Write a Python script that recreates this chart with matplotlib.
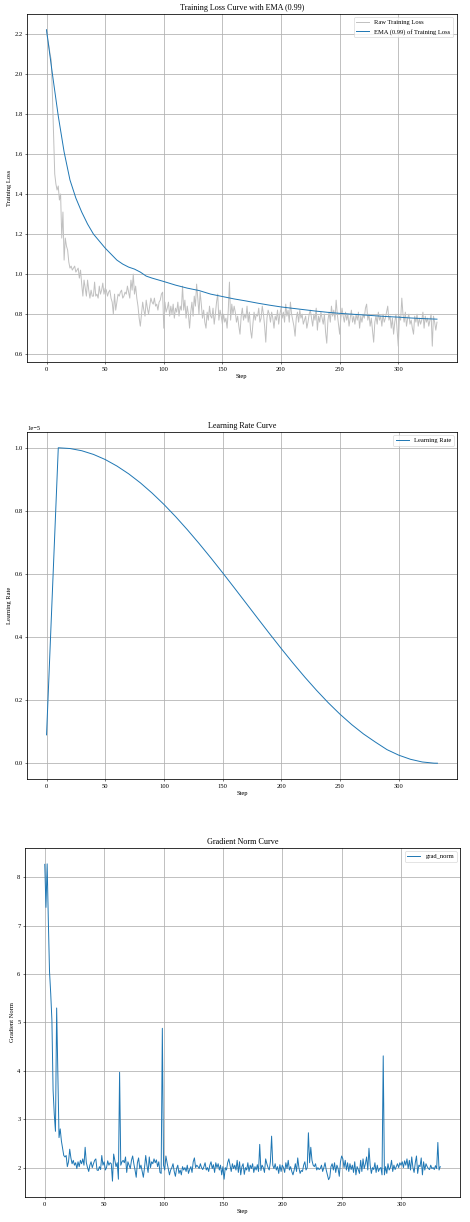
import matplotlib
matplotlib.use("Agg")
import matplotlib.pyplot as plt
import numpy as np

plt.rcParams['font.family'] = ['Liberation Serif', 'DejaVu Serif']
plt.rcParams['grid.linewidth'] = 1.2
plt.rcParams['axes.linewidth'] = 1.2

# ---------------- data ----------------
loss_raw = [
    2.22, 2.17, 2.14, 2.10, 2.07, 1.90, 1.70, 1.50, 1.45, 1.42,
    1.44, 1.37, 1.40, 1.18, 1.31, 1.07, 1.18, 1.14, 1.12, 1.06,
    1.03, 1.04, 1.02, 1.03, 1.04, 1.01, 1.02, 1.03, 0.98, 1.02,
    0.95, 0.89, 0.97, 0.93, 0.89, 0.97, 0.92, 0.88, 0.92, 0.89,
    0.89, 0.96, 0.89, 0.90, 0.88, 0.94, 0.90, 0.92, 0.955, 0.90,
    0.93, 0.92, 0.89, 0.91, 0.92, 0.88, 0.86, 0.80, 0.90, 0.82,
    0.86, 0.90, 0.89, 0.91, 0.92, 0.88, 0.89, 0.91, 0.90, 0.94,
    0.91, 0.88, 0.97, 0.92, 1.00, 0.90, 0.94, 0.88, 0.84, 0.78,
    0.74, 0.80, 0.86, 0.82, 0.79, 0.87, 0.83, 0.80, 0.84, 0.88,
    0.86, 0.85, 0.88, 0.84, 0.85, 0.82, 0.86, 0.87, 0.90, 0.91,
    0.73, 0.86, 0.81, 0.83, 0.86,
    0.79, 0.84, 0.80, 0.85, 0.78, 0.83, 0.81, 0.86, 0.79, 0.84,
    0.82, 0.94, 0.82, 0.87, 0.78, 0.84, 0.80, 0.73, 0.81, 0.86,
    0.79, 0.89, 0.84, 0.95, 0.88, 0.80, 0.91, 0.85, 0.78, 0.82,
    0.76, 0.73, 0.81, 0.77, 0.84, 0.79, 0.78, 0.83, 0.75, 0.80,
    0.86, 0.90, 0.77, 0.82, 0.79, 0.75, 0.80, 0.76, 0.78, 0.73,
    0.82, 0.96, 0.77, 0.85, 0.80, 0.84, 0.81, 0.76, 0.79, 0.74,
    0.70, 0.79, 0.83, 0.77, 0.80, 0.78, 0.84, 0.76, 0.81, 0.72,
    0.68, 0.75, 0.81, 0.77, 0.80, 0.79, 0.83, 0.76, 0.78, 0.84,
    0.80, 0.74, 0.66, 0.78, 0.82, 0.80, 0.76, 0.81, 0.78, 0.73,
    0.79, 0.77, 0.82, 0.75, 0.80, 0.83, 0.78, 0.81, 0.76, 0.85,
    0.79, 0.82, 0.76, 0.86, 0.80, 0.77, 0.74, 0.69, 0.78, 0.81,
    0.76, 0.82, 0.78, 0.80, 0.75, 0.77, 0.79, 0.73, 0.76, 0.80,
    0.82, 0.78, 0.74, 0.80, 0.77, 0.83, 0.72, 0.79, 0.76, 0.81,
    0.78, 0.75, 0.80, 0.71, 0.655, 0.77, 0.81, 0.76, 0.84, 0.79,
    0.82, 0.77, 0.87, 0.80, 0.75, 0.70, 0.78, 0.83, 0.79, 0.76,
    0.81, 0.77, 0.80, 0.74, 0.78, 0.82, 0.76, 0.79, 0.75, 0.80,
    0.77, 0.81, 0.73, 0.79, 0.76, 0.80, 0.78, 0.83, 0.85, 0.77,
    0.80, 0.74, 0.78, 0.72, 0.66, 0.76, 0.79, 0.75, 0.81, 0.77,
    0.79, 0.74, 0.80, 0.76, 0.78, 0.81, 0.84, 0.77, 0.79, 0.73,
    0.78, 0.70, 0.76, 0.80, 0.72, 0.64, 0.79, 0.77, 0.88, 0.80,
    0.76, 0.81, 0.74, 0.78, 0.80, 0.75, 0.77, 0.73, 0.70, 0.79,
    0.76, 0.80, 0.74, 0.78, 0.75, 0.77, 0.81, 0.73, 0.79, 0.76,
    0.78, 0.74, 0.77, 0.80, 0.64, 0.79, 0.76, 0.72, 0.76,
]

ema_steps = [0, 5, 10, 15, 20, 25, 30, 35, 40, 45, 50, 55, 60, 65, 70, 75,
             80, 85, 90, 100, 110, 120, 130, 140, 150, 160, 170, 180, 190,
             200, 210, 220, 230, 240, 250, 260, 270, 280, 290, 300, 310,
             320, 333]
ema_loss = [2.22, 2.00, 1.79, 1.61, 1.47, 1.38, 1.31, 1.25, 1.20, 1.165,
            1.13, 1.10, 1.07, 1.05, 1.035, 1.025, 1.01, 0.99, 0.98, 0.963,
            0.945, 0.93, 0.918, 0.90, 0.888, 0.876, 0.866, 0.855, 0.845,
            0.836, 0.829, 0.822, 0.815, 0.809, 0.804, 0.800, 0.796, 0.792,
            0.788, 0.785, 0.781, 0.778, 0.775]

lr_steps = [0, 10, 20, 30, 40, 50, 60, 70, 80, 90, 100, 110, 120, 130, 140,
            150, 160, 170, 180, 190, 200, 210, 220, 230, 240, 250, 260, 270,
            280, 290, 300, 310, 320, 330, 333]
lr_vals = [0.09, 1.0, 0.9976, 0.9906, 0.9789, 0.9627, 0.9420, 0.9173,
           0.8886, 0.8561, 0.8204, 0.7815, 0.7400, 0.6963, 0.6508, 0.6038,
           0.5558, 0.5073, 0.4587, 0.4105, 0.3632, 0.3172, 0.2730, 0.2311,
           0.1917, 0.1553, 0.1223, 0.0928, 0.0673, 0.0431, 0.0256, 0.0125,
           0.0040, 0.0002, 0.0]

grad_norm = [
    8.27, 7.38, 8.28, 7.10, 6.05, 5.60, 5.05, 3.60, 3.10, 2.75,
    5.30, 3.90, 2.62, 2.80, 2.55, 2.40, 2.25, 2.22, 2.25, 2.02,
    2.12, 2.38, 2.20, 2.08, 2.15, 2.05, 2.10, 1.98, 2.12, 2.02,
    2.15, 2.08, 2.18, 2.05, 2.42, 2.10, 2.00, 1.92, 2.05, 2.12,
    2.00, 2.08, 2.15, 2.18, 1.95, 1.94, 2.02, 1.96, 2.25, 2.05,
    2.12, 1.95, 2.00, 2.14, 2.05, 2.10, 2.08, 1.72, 2.28, 2.15,
    2.02, 2.10, 1.76, 3.97, 2.05, 2.12, 2.15, 2.10, 2.22, 1.90,
    2.12, 2.05, 1.98, 2.15, 2.24, 2.08, 1.95, 1.80, 2.10, 2.20,
    1.98, 2.05, 1.92, 1.80, 2.00, 2.25, 2.05, 1.90, 2.22, 2.00,
    2.12, 2.08, 2.18, 2.10, 2.16, 2.02, 2.12, 1.90, 1.88, 4.88,
    2.05, 1.95, 2.24, 2.10, 1.98, 1.85, 1.95, 2.00, 2.08, 1.92,
    1.82, 1.98, 2.05, 1.88, 1.95, 1.85, 2.02, 1.95, 2.00, 1.92,
    2.05, 1.88, 1.96, 2.02, 1.90, 2.12, 2.20, 2.00, 2.05, 2.02,
    1.98, 2.08, 2.00, 1.96, 2.02, 2.10, 1.95, 2.00, 1.92, 2.05,
    2.12, 1.98, 2.06, 1.90, 2.10, 2.00, 2.08, 1.95, 2.05, 1.85,
    2.02, 1.76, 2.00, 1.95, 2.10, 2.18, 2.05, 1.92, 2.08, 1.98,
    2.05, 1.95, 2.15, 1.90, 2.12, 1.85, 2.02, 2.08, 1.86, 2.00,
    1.95, 2.10, 1.92, 2.05, 1.98, 2.08, 1.90, 2.02, 1.95, 2.06,
    1.92, 2.48, 1.94, 2.05, 2.00, 1.90, 2.18, 2.08, 2.00, 1.95,
    2.12, 2.65, 2.05, 1.98, 2.08, 1.95, 2.02, 1.88, 2.06, 1.92,
    2.05, 2.00, 1.90, 2.10, 1.98, 2.15, 1.95, 2.02, 1.92, 1.85,
    1.95, 2.08, 1.92, 2.20, 2.00, 1.88, 1.94, 1.92, 2.05, 2.12,
    1.95, 2.00, 2.72, 2.10, 2.42, 2.15, 2.05, 2.02, 2.08, 1.95,
    2.00, 1.96, 1.98, 2.05, 1.92, 2.00, 2.10, 1.95, 1.85, 1.75,
    1.80, 2.02, 2.08, 1.95, 2.10, 1.90, 2.05, 1.98, 1.82, 2.12,
    2.24, 2.18, 2.00, 2.15, 1.95, 2.10, 1.92, 2.08, 1.96, 2.05,
    1.90, 2.12, 1.85, 2.02, 1.96, 1.88, 2.15, 1.92, 2.18, 1.98,
    2.08, 2.22, 1.95, 2.40, 2.05, 1.88, 2.00, 1.96, 2.10, 1.90,
    2.05, 1.92, 1.98, 2.00, 1.85, 4.31, 1.85, 2.02, 1.88, 2.08,
    1.95, 2.00, 2.15, 1.92, 2.05, 1.96, 2.02, 2.08, 2.00, 2.10,
    2.05, 2.12, 2.00, 2.14, 2.05, 2.18, 1.98, 2.15, 1.95, 2.22,
    2.00, 1.90, 2.10, 2.24, 1.88, 2.05, 2.02, 2.20, 1.85, 2.12,
    1.95, 2.08, 2.02, 1.98, 1.96, 2.05, 1.98, 2.00, 1.96, 2.04,
    1.98, 2.52, 1.95, 2.02,
]

steps = np.arange(len(loss_raw))
gn_steps = np.arange(len(grad_norm))

# ---------------- plot ----------------
W, H = 470, 1222
fig = plt.figure(figsize=(10, 26), dpi=47)

def px_axes(left, top, right, bottom):
    return fig.add_axes([left / W, (H - bottom) / H, (right - left) / W, (bottom - top) / H])

ax1 = px_axes(27, 14, 456.5, 362)
ax2 = px_axes(27, 432, 457, 779)
ax3 = px_axes(25, 848, 460, 1197)

ax = ax1
ax.plot(steps, loss_raw, color='silver', label='Raw Training Loss')
ax.plot(ema_steps, ema_loss, color='#1f77b4', label='EMA (0.99) of Training Loss')
ax.set_title('Training Loss Curve with EMA (0.99)', fontsize=12.5)
ax.set_xlabel('Step')
ax.set_ylabel('Training Loss')
ax.legend(loc='upper right')
ax.grid(True)

ax = ax2
ax.plot(lr_steps, np.array(lr_vals) * 1e-5, color='#1f77b4', label='Learning Rate')
ax.set_title('Learning Rate Curve', fontsize=12.5)
ax.set_xlabel('Step')
ax.set_ylabel('Learning Rate')
ax.legend(loc='upper right')
ax.grid(True)

ax = ax3
ax.plot(gn_steps, grad_norm, color='#1f77b4', label='grad_norm')
ax.set_title('Gradient Norm Curve', fontsize=12.5)
ax.set_xlabel('Step')
ax.set_ylabel('Gradient Norm')
ax.legend(loc='upper right')
ax.grid(True)

fig.savefig('out.png', dpi=47)
